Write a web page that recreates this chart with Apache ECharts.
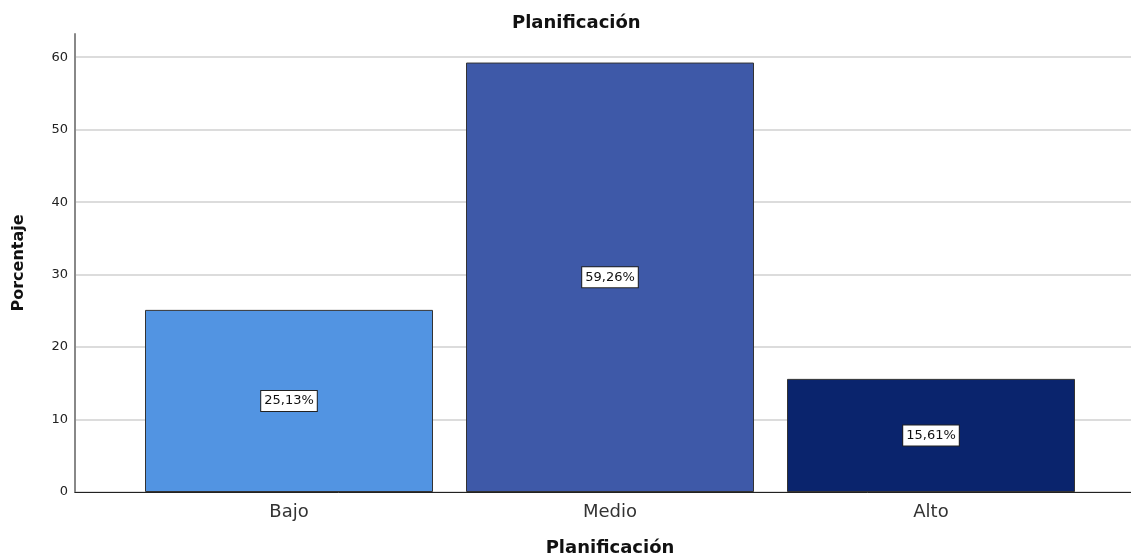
<!DOCTYPE html>
<html><head><meta charset="utf-8">
<script src="https://cdn.jsdelivr.net/npm/echarts@6/dist/echarts.min.js"></script>
<style>html,body{margin:0;padding:0;background:#fff}#c{width:1131px;height:556px}</style>
</head><body><div id="c"></div>
<script>
const categories = ['Bajo', 'Medio', 'Alto'];
const values = [25.13, 59.26, 15.61];
const labels = ['25,13%', '59,26%', '15,61%'];
const colors = ['#5294E2', '#3E59A8', '#0A246D'];
const yTicks = [0, 10, 20, 30, 40, 50, 60];

const chart = echarts.init(document.getElementById('c'));
const font = 'DejaVu Sans, Arial, sans-serif';
chart.setOption({
  animation: false,
  title: [
    {text: 'Planificación', left: 507, top: 9, textStyle: {fontFamily: font, fontSize: 18, fontWeight: 'bold', color: '#111'}},
  ],
  grid: [
    {left: 75, right: 0, top: 34, bottom: 64, containLabel: false, outerBoundsMode: 'none'},
    {left: 128.5, width: 963, top: 34, bottom: 64, containLabel: false, outerBoundsMode: 'none'}
  ],
  xAxis: [
    {gridIndex: 0, type: 'value', min: 0, max: 1, show: true, axisLine: {show: true, lineStyle: {color: '#222', width: 1}}, axisTick: {show: false}, axisLabel: {show: false}, splitLine: {show: false}},
    {gridIndex: 1, type: 'category', data: categories, axisLine: {show: false}, axisTick: {show: false},
     axisLabel: {fontFamily: font, fontSize: 18, color: '#333', margin: 11},
     name: 'Planificación', nameLocation: 'middle', nameGap: 47, nameTextStyle: {fontFamily: font, fontSize: 18, fontWeight: 'bold', color: '#111'}}
  ],
  yAxis: [
    {gridIndex: 0, type: 'value', min: 0, max: 63.2, interval: 10,
     axisLine: {show: true, lineStyle: {color: '#888', width: 2}}, axisTick: {show: false},
     axisLabel: {fontFamily: font, fontSize: 13, color: '#222', margin: 7, formatter: v => yTicks.includes(v) ? String(v) : ''},
     splitLine: {show: true, lineStyle: {color: ['#d0d0d0','#d0d0d0','#d0d0d0','#d0d0d0','#d0d0d0','#d0d0d0','#d0d0d0','rgba(0,0,0,0)'], width: 1.5}},
     name: 'Porcentaje', nameLocation: 'middle', nameGap: 48, nameRotate: 90,
     nameTextStyle: {fontFamily: font, fontSize: 16, fontWeight: 'bold', color: '#111'}},
    {gridIndex: 1, type: 'value', min: 0, max: 63.2, show: false}
  ],
  series: [{
    type: 'bar', xAxisIndex: 1, yAxisIndex: 1, barWidth: 288,
    data: values.map((v, i) => ({value: v, itemStyle: {color: colors[i]}})),
    itemStyle: {borderColor: '#333', borderWidth: 1},
    label: {show: true, position: 'inside', formatter: p => labels[p.dataIndex],
      fontFamily: font, fontSize: 13, lineHeight: 14, color: '#111', backgroundColor: '#fff', borderColor: '#222', borderWidth: 1, padding: [3, 3, 3, 3]}
  }]
});
</script></body></html>
